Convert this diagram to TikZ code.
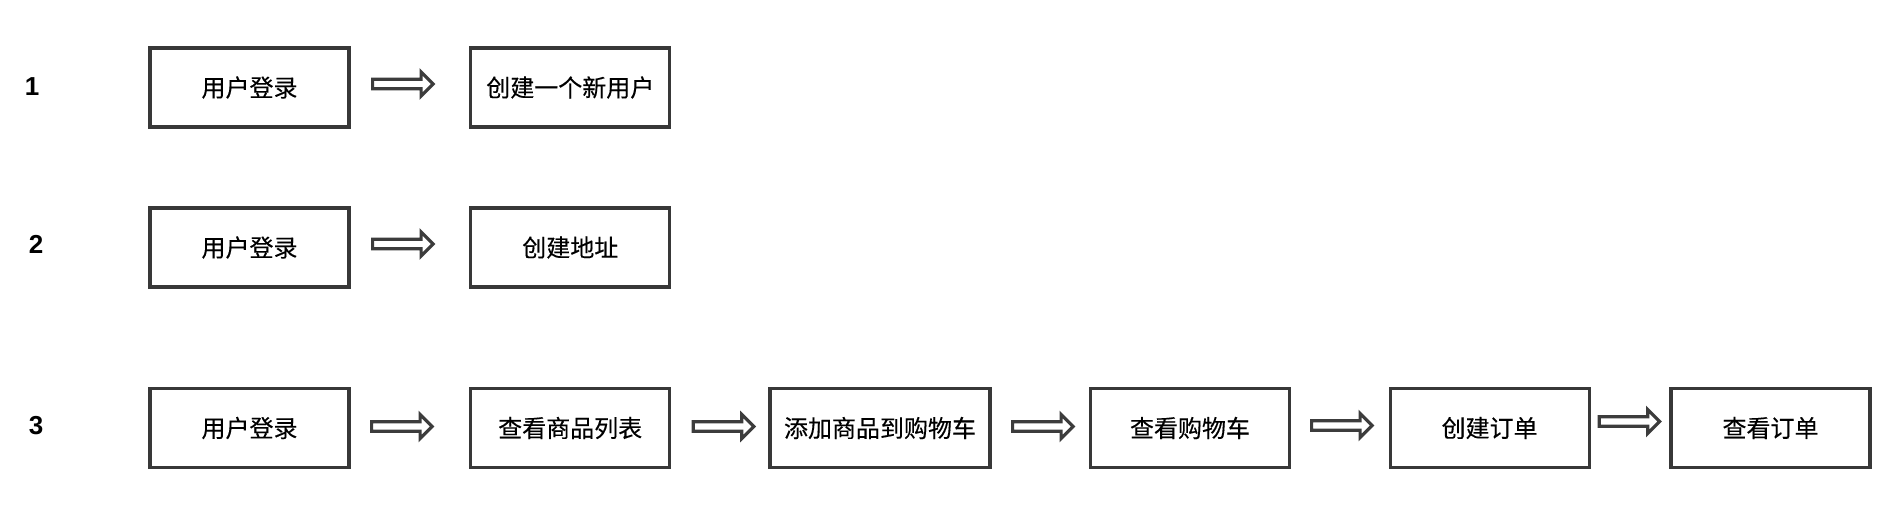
\documentclass[tikz,border=0pt]{standalone}
\usepackage{fontspec}
\setmainfont{Liberation Sans}
\newfontfamily\cjkfont[FakeBold=0.25]{Noto Sans CJK SC}
\usetikzlibrary{calc}
\definecolor{boxgray}{HTML}{383838}
\definecolor{arrowgray}{HTML}{3C3C3C}
\begin{document}
\begin{tikzpicture}[x=1pt,y=-1pt,
  stepbox/.style={draw=boxgray, line width=3.2pt, fill=white, minimum width=199pt,
    minimum height=79pt, inner sep=0pt, font=\cjkfont\fontsize{24pt}{28pt}\selectfont},
  widebox/.style={stepbox, minimum width=220pt},
  numlabel/.style={font=\bfseries\fontsize{26pt}{30pt}\selectfont, inner sep=0pt},
  fatline/.style={draw=arrowgray, line width=3.2pt, fill=white, line join=miter},
  fat/.style 2 args={
    to path={let \p1=($(\tikztostart.east)+(#1,#2)$) in
      (\x1,\y1+4.8pt) -- (\x1+48.5pt,\y1+4.8pt) -- (\x1+48.5pt,\y1+12pt)
      -- (\x1+60.5pt,\y1) -- (\x1+48.5pt,\y1-12pt) -- (\x1+48.5pt,\y1-4.8pt)
      -- (\x1,\y1-4.8pt) -- cycle}}
]
\fill[white] (0,0) rectangle (1898,512);
\useasboundingbox (0,0) rectangle (1898,512);

% row 1
\node[numlabel] (n1) at (32,86.5) {1};
\node[stepbox] (a1) at (249.5,87.5) {用户登录};
\node[stepbox] (a2) at (570.3,87.5) {创建一个新用户};
\draw[fatline] (a1) to[fat={22}{-3.5}] (a2);

% row 2
\node[numlabel] (n2) at (36,244.5) {2};
\node[stepbox] (b1) at (249.5,247.5) {用户登录};
\node[stepbox] (b2) at (570.3,247.5) {创建地址};
\draw[fatline] (b1) to[fat={22}{-3.5}] (b2);

% row 3
\node[numlabel] (n3) at (36,426) {3};
\node[stepbox] (c1) at (249.5,428) {用户登录};
\node[stepbox] (c2) at (570.2,428) {查看商品列表};
\node[widebox] (c3) at (880,428) {添加商品到购物车};
\node[stepbox] (c4) at (1190,428) {查看购物车};
\node[stepbox] (c5) at (1489.6,428) {创建订单};
\node[stepbox] (c6) at (1770.5,428) {查看订单};
\draw[fatline] (c1) to[fat={21}{-1.5}] (c2);
\draw[fatline] (c2) to[fat={22}{-1.5}] (c3);
\draw[fatline] (c3) to[fat={21}{-1.5}] (c4);
\draw[fatline] (c4) to[fat={20.5}{-2.5}] (c5);
\draw[fatline] (c5) to[fat={8.5}{-6.5}] (c6);
\end{tikzpicture}
\end{document}
